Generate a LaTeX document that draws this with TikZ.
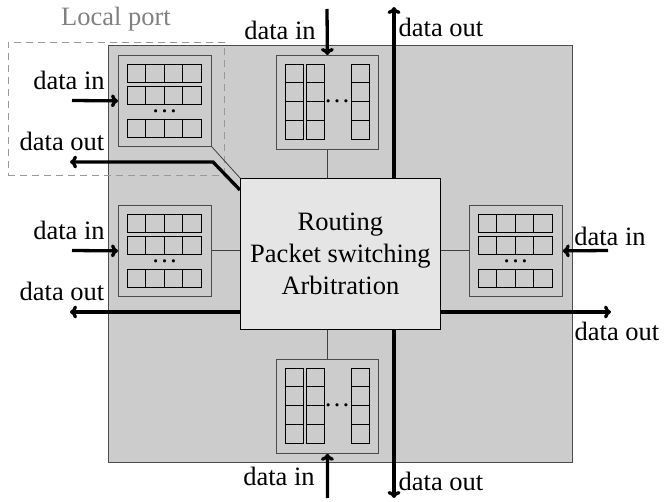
\documentclass[tikz,border=0pt]{standalone}
\usepackage{fontspec}
\setmainfont{Liberation Serif}
\usetikzlibrary{arrows.meta}
\tikzset{
  outerbox/.style={draw=black!70, fill=black!20, line width=0.8pt, inner sep=0pt},
  core/.style={draw=black, fill=black!10, line width=0.8pt, inner sep=0pt, align=center, font=\fontsize{26.5}{31.7}\selectfont},
  bufbox/.style={draw=black!70, fill=black!20, line width=0.8pt, inner sep=0pt},
  cell/.style={draw=black, line width=0.8pt},
  wire/.style={draw=black!75, line width=0.8pt},
  flow/.style={line width=3.3pt, -{To[length=7pt,width=13pt]}},
  lbl/.style={anchor=base, inner sep=0pt, font=\fontsize{26.5}{31.7}\selectfont},
  portbox/.style={draw=black!40, dash pattern=on 7pt off 5pt, line width=0.8pt, inner sep=0pt},
  dotsty/.style={inner sep=0pt, font=\fontsize{26.5}{31.7}\selectfont},
}
\newcommand\hbufdraw[3]{%
  \node[bufbox, minimum width=93pt, minimum height=91pt, anchor=north west] (#1) at (#2,#3) {};
  \foreach \r in {9,31,64}{\foreach \c in {0,1,2,3}{\draw[cell] ({#2+9+\c*18.5},{#3+\r}) rectangle ++(18.5,18);}}
  \node[dotsty] (#1d) at ({#2+46.5},{#3+56}) {\dots};
}
\newcommand\vbufdraw[3]{%
  \node[bufbox, minimum width=102pt, minimum height=94pt, anchor=north west] (#1) at (#2,#3) {};
  \foreach \c in {9,30,75.5}{\foreach \r in {0,1,2,3}{\draw[cell] ({#2+\c},{#3+9+\r*18.75}) rectangle ++(18,18.75);}}
  \node[dotsty] (#1d) at ({#2+61},{#3+46}) {\dots};
}
\begin{document}
\begin{tikzpicture}[x=1pt,y=-1pt]
\useasboundingbox (0,0) rectangle (664,502);
\node[outerbox, minimum width=464pt, minimum height=417pt, anchor=north west] (router) at (108,45) {};
\node[portbox, minimum width=216pt, minimum height=133pt, anchor=north west] (local) at (8,42) {};
\node[lbl, text=black!50] (localtxt) at (116,26) {Local port};

\hbufdraw{TL}{118}{55}
\hbufdraw{ML}{118}{205}
\hbufdraw{R}{469}{205}
\vbufdraw{T}{276}{55}
\vbufdraw{B}{276}{359}

\node[core, minimum width=200pt, minimum height=151pt, anchor=north west] (xbar) at (240,178) {Routing\\Packet switching\\Arbitration};

% thin connections
\draw[wire] (T.south) -- (T.south |- xbar.north);
\draw[wire] (B.north) -- (B.north |- xbar.south);
\draw[wire] (ML.east) -- (ML.east -| xbar.west);
\draw[wire] (R.west) -- (R.west -| xbar.east);
\draw[wire] (TL.south east) -- (xbar.north west);

% free ends
\coordinate (tlin) at (72,100.5);
\coordinate (tlbend) at (213,162);
\coordinate (tlout) at (70,162);
\coordinate (mlin) at (72,250.5);
\coordinate (mlout) at (70,312);
\coordinate (rin) at (608,250.5);
\coordinate (rout) at (611,312);
\coordinate (tin) at (327,9);
\coordinate (tout) at (394,7);
\coordinate (bin) at (327.5,498);
\coordinate (bout) at (394,498);

% data flows
\draw[flow] (tlin) -- (TL.west);
\draw[flow] ([yshift=-12pt]xbar.north west) -- (tlbend) -- (tlout);
\draw[flow] (mlin) -- (ML.west);
\draw[flow] (xbar.west |- mlout) -- (mlout);
\draw[flow] (rin) -- (R.east);
\draw[flow] (xbar.east |- rout) -- (rout);
\draw[flow] (tin) -- (T.north);
\draw[flow] (xbar.north -| tout) -- (tout);
\draw[flow] (bin) -- (B.south);
\draw[flow] (xbar.south -| bout) -- (bout);

% labels
\node[lbl] (tlintxt) at (69,90) {data in};
\node[lbl] (tlouttxt) at (62,151) {data out};
\node[lbl] (mlintxt) at (69,240) {data in};
\node[lbl] (mlouttxt) at (62,301) {data out};
\node[lbl] (rintxt) at (610,246) {data in};
\node[lbl] (routtxt) at (617,341) {data out};
\node[lbl] (tintxt) at (280,40) {data in};
\node[lbl] (touttxt) at (441,37) {data out};
\node[lbl] (bintxt) at (279,485) {data in};
\node[lbl] (bouttxt) at (441,490) {data out};
\end{tikzpicture}
\end{document}
